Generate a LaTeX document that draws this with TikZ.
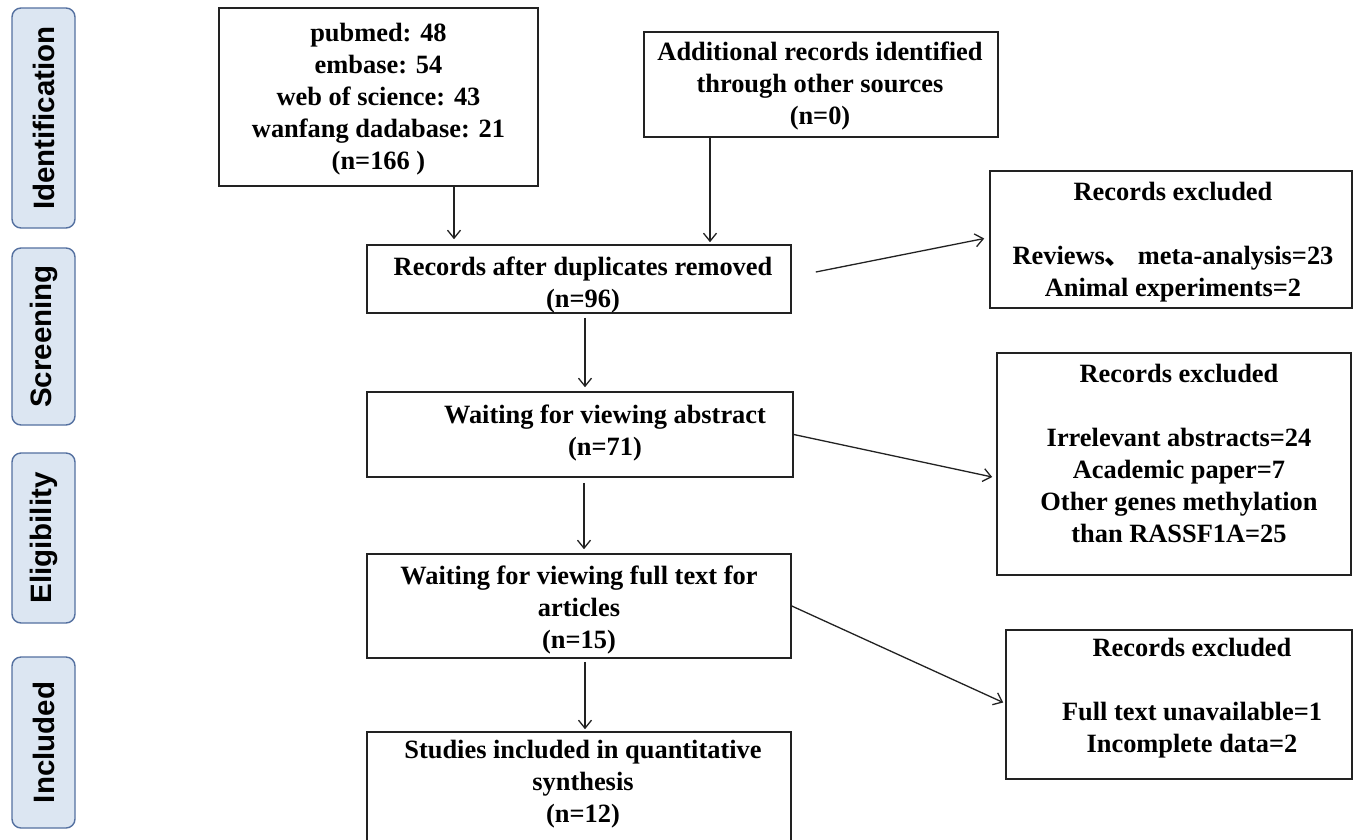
\documentclass[tikz,border=0pt]{standalone}
\usepackage{fontspec}
\setmainfont{Liberation Serif}
\newfontfamily\phasefont{Liberation Sans}
\newfontfamily\cjk{Noto Sans CJK SC}
\usetikzlibrary{arrows.meta}
\definecolor{phasefill}{RGB}{220,230,242}
\definecolor{phaseline}{RGB}{84,112,160}
\definecolor{boxline}{RGB}{34,34,34}
\begin{document}
\begin{tikzpicture}[x=1pt,y=-1pt,
  box/.style={draw=boxline, line width=1.6pt, fill=white, inner sep=0pt},
  txt/.style={inner sep=0pt, align=center, font=\fontsize{26.4}{32}\selectfont\bfseries},
  phase/.style={draw=phaseline, fill=phasefill, line width=1.4pt, rounded corners=9pt,
    rotate=90, minimum height=63pt, inner sep=0pt,
    font=\phasefont\fontsize{29.5}{32}\selectfont\bfseries},
  arr/.style={line width=1.3pt, draw=boxline, -{Straight Barb[length=8pt,width=13pt,line width=1.3pt]}}
]
\clip (0,0) rectangle (1356,839);
\fill[white] (0,0) rectangle (1356,839);

% phase labels
\node[phase, minimum width=220pt] (p1) at (43.5,118) {Identification};
\node[phase, minimum width=177pt] (p2) at (43.5,336.5) {Screening};
\node[phase, minimum width=170pt] (p3) at (43.5,538) {Eligibility};
\node[phase, minimum width=171pt] (p4) at (43.5,742.5) {Included};

% boxes
\node[box, minimum width=319pt, minimum height=178pt] (A) at (378.5,97) {};
\node[box, minimum width=354pt, minimum height=105pt] (B) at (821,84.5) {};
\node[box, minimum width=424pt, minimum height=68pt] (C) at (579,279) {};
\node[box, minimum width=362pt, minimum height=137pt] (D) at (1171,239.5) {};
\node[box, minimum width=426pt, minimum height=85pt] (E) at (580,434.5) {};
\node[box, minimum width=354pt, minimum height=222pt] (H) at (1174,464) {};
\node[box, minimum width=424pt, minimum height=104pt] (F) at (579,606) {};
\node[box, minimum width=346pt, minimum height=149pt] (I) at (1179,704.5) {};
\node[box, minimum width=424pt, minimum height=140pt] (G) at (579,802) {};

% texts
\node[txt] (At) at (378.5,99) {pubmed: 48\\embase: 54\\web of science: 43\\wanfang dadabase: 21\\(n=166 )};
\node[txt] (Bt) at (820,86) {Additional records identified\\through other sources\\(n=0)};
\node[txt] (Ct) at (583,285) {Records after duplicates removed\\(n=96)};
\node[txt] (Dt) at (1173,242) {Records excluded\\[32pt]Reviews{\cjk 、} meta-analysis=23\\Animal experiments=2};
\node[txt] (Et) at (605,433.5) {Waiting for viewing abstract\\(n=71)};
\node[txt] (Ht) at (1179,453) {Records excluded\\[32pt]Irrelevant abstracts=24\\Academic paper=7\\Other genes methylation\\than RASSF1A=25};
\node[txt] (Ft) at (579,610) {Waiting for viewing full text for\\articles\\(n=15)};
\node[txt] (It) at (1192,698) {Records excluded\\[32pt]Full text unavailable=1\\Incomplete data=2};
\node[txt] (Gt) at (583,784) {Studies included in quantitative\\synthesis\\(n=12)};

% connectors
\draw[arr, shorten >=5pt] ([xshift=75.5pt]A.south) -- ([xshift=-125pt]C.north);
\draw[arr, shorten >=2pt] ([xshift=-111pt]B.south) -- ([xshift=131pt]C.north);
\draw[arr, shorten <=4pt, shorten >=4pt] ([xshift=6pt]C.south) -- ([xshift=5pt]E.north);
\draw[arr, shorten <=5pt, shorten >=4pt] ([xshift=4pt]E.south) -- ([xshift=5pt]F.north);
\draw[arr, shorten <=3pt, shorten >=2pt] ([xshift=6pt]F.south) -- ([xshift=6pt]G.north);
\draw[arr] ([xshift=24pt,yshift=7pt]C.east) -- ([xshift=-5pt,yshift=1pt]D.west);
\draw[arr] (E.east) -- ([xshift=-4pt,yshift=-13pt]H.west);
\draw[arr] (F.east) -- ([xshift=-2pt,yshift=2pt]I.west);
\end{tikzpicture}
\end{document}
